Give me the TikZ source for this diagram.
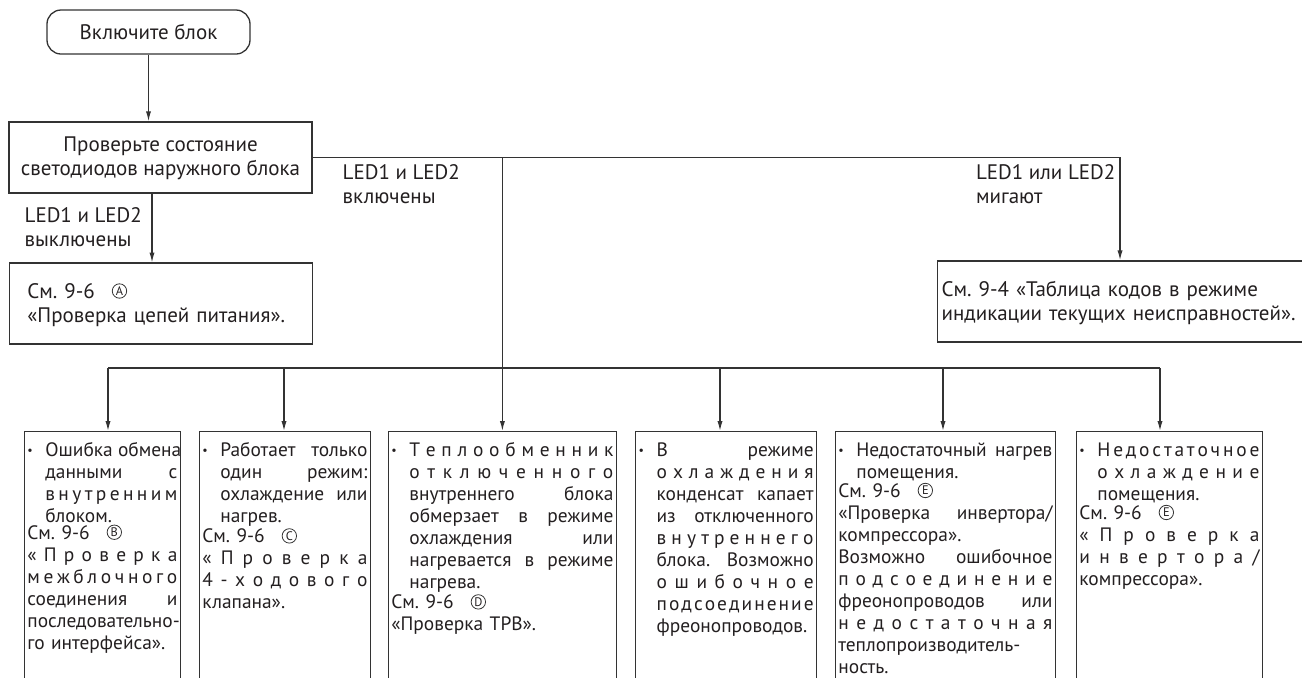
\documentclass[tikz,border=0pt]{standalone}
\usepackage{fontspec}
\setmainfont{PT Sans}
\frenchspacing
\usetikzlibrary{arrows.meta}
\definecolor{linegray}{HTML}{333333}
\definecolor{inkblack}{HTML}{231F20}

% justified line / letter-spaced line / bullet block / circled mark
\newcommand\jst[1]{\makebox[\linewidth][s]{\spaceskip=\fontdimen2\font plus 1fil\relax #1}}
\def\lspstep#1#2\lspstop{#1\ifx\relax#2\relax\else\hfil\lspstep#2\lspstop\fi}
\newcommand\lsp[1]{\makebox[\linewidth][s]{\lspstep#1\lspstop}}
\newcommand\bul[1]{\makebox[9pt][l]{\raisebox{1.2pt}{\fontsize{6}{6}\selectfont\textbullet}}\parbox[t]{\dimexpr\linewidth-9pt}{#1}}
\newcommand\refm[1]{\hspace{8.5pt}\tikz[baseline={([yshift=-1.3pt]m.base)}]
  \node[draw=linegray, circle, line width=0.4pt, inner sep=0pt, minimum size=7.2pt,
    font=\fontsize{6.2}{6.2}\selectfont] (m) {#1};}

\begin{document}
\begin{tikzpicture}[x=0.5pt, y=-0.5pt, line width=0.65pt,
  >={Latex[length=5pt,width=2.6pt]},
  every node/.style={text=inkblack, font=\fontsize{10.5}{12}\selectfont},
  termbox/.style={draw=linegray, rounded corners=7pt, minimum width=101.5pt, minimum height=22pt},
  checkbox/.style={draw=linegray, align=center, minimum width=151.5pt, minimum height=35.5pt,
    text height=18pt, text depth=0pt},
  refbox/.style={draw=linegray, anchor=west, align=left, minimum height=40.5pt,
    text height=8pt, text depth=13.5pt},
  causebox/.style={draw=linegray, anchor=north west, align=left, inner xsep=1.5pt,
    inner ysep=2pt, text height=10.5pt, text depth=140pt, font=\fontsize{9.7}{11}\selectfont},
  ledlbl/.style={anchor=base west, align=left, inner sep=0pt}]
  \useasboundingbox (0,0) rectangle (1302,677);
  \clip (0,0) rectangle (1302,677);

  \node[termbox] (start) at (148.5,32) {Включите блок};
  \node[checkbox] (check) at (160.5,157.5) {Проверьте состояние\\светодиодов наружного блока};
  \node[refbox, text width=133.5pt, inner xsep=9pt] (boxA) at (9,303.5)
    {См. 9-6\refm{A}\\«Проверка цепей питания».};
  \node[refbox, text width=200pt, inner xsep=2pt] (codes) at (937,301.5)
    {См. 9-4 «Таблица кодов в режиме\\индикации текущих неисправностей».};

  \node[ledlbl] (offlbl) at (24,246) {LED1 и LED2\\выключены};
  \node[ledlbl] (onlbl) at (342,203) {LED1 и LED2\\включены};
  \node[ledlbl, anchor=base east] (blinklbl) at (1116,203) {LED1 или LED2\\мигают};

  \node[causebox, text width=75pt] (b1) at (24,431)
    {\bul{\jst{Ошибка обмена}\\\jst{данными с}\\\lsp{внутренним}\\блоком.}\\
     См. 9-6\refm{B}\\\lsp{«Проверка}\\\lsp{межблочного}\\\jst{соединения и}\\
     \mbox{последовательно-}\\го интерфейса».};
  \node[causebox, text width=82.5pt] (b2) at (199,431)
    {\bul{\jst{Работает только}\\\jst{один режим:}\\\jst{охлаждение или}\\нагрев.}\\
     См. 9-6\refm{C}\\\lsp{«Проверка}\\\lsp{4-ходового}\\клапана».};
  \node[causebox, text width=111pt] (b3) at (388,431)
    {\bul{\lsp{Теплообменник}\\\lsp{отключенного}\\\jst{внутреннего блока}\\
       \jst{обмерзает в режиме}\\\jst{охлаждения или}\\\jst{нагревается в режиме}\\нагрева.}\\
     См. 9-6\refm{D}\\«Проверка ТРВ».};
  \node[causebox, text width=87.5pt] (b4) at (635,431)
    {\bul{\jst{В режиме}\\\lsp{охлаждения}\\\jst{конденсат капает}\\\jst{из отключенного}\\
       \lsp{внутреннего}\\\jst{блока. Возможно}\\\lsp{ошибочное}\\\lsp{подсоединение}\\
       фреонопроводов.}};
  \node[causebox, text width=107pt] (b5) at (835,431)
    {\bul{\jst{Недостаточный нагрев}\\помещения.}\\
     См. 9-6\refm{E}\\\jst{«Проверка инвертора/}\\компрессора».\\
     \jst{Возможно ошибочное}\\\lsp{подсоединение}\\\jst{фреонопроводов или}\\
     \lsp{недостаточная}\\\mbox{теплопроизводитель-}\\ность.};
  \node[causebox, text width=90pt] (b6) at (1076,431)
    {\bul{\lsp{Недостаточное}\\\lsp{охлаждение}\\помещения.}\\
     См. 9-6\refm{E}\\\lsp{«Проверка}\\\lsp{инвертора/}\\компрессора».};

  \coordinate (offtop) at (152,193);
  \coordinate (jright) at (1120,157.5);
  \foreach \i/\x in {1/108,2/284,4/720,5/943,6/1160}
    \coordinate (bus\i) at (\x,368);

  \draw[linegray, ->] (start.south) -- (start.south |- check.north);
  \draw[linegray, ->] (offtop) -- (offtop |- boxA.north);
  \draw[linegray, ->] (check.east) -| (jright |- codes.north);
  \draw[linegray, ->] (check.east -| b3.north) -- (b3.north);
  \draw[linegray] (bus1) -- (bus6);
  \foreach \i in {1,2,4,5,6}
    \draw[linegray, ->] (bus\i) -- (bus\i |- b\i.north);
\end{tikzpicture}
\end{document}
